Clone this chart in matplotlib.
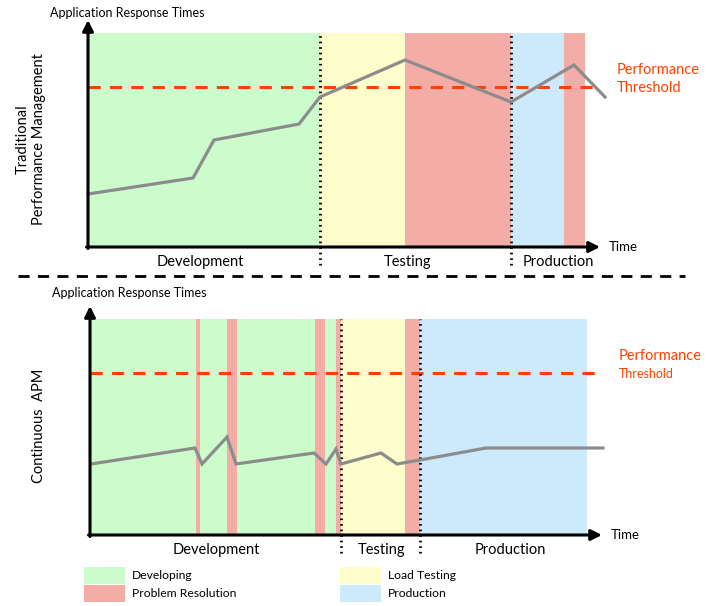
import matplotlib.pyplot as plt
from matplotlib.lines import Line2D
from matplotlib.patches import Patch

plt.rcParams['font.family'] = ['Lato', 'DejaVu Sans']

# colours of the phases
GREEN = '#ccfccc'
YELLOW = '#fefdcc'
RED = '#f4aca6'
BLUE = '#cceafc'
ORANGE = '#ff4000'
GREY = '#8c8c8c'

# ---- traditional APM (top) ----
top_spans_start = [0, 232, 317, 423, 476]
top_spans_end = [232, 317, 423, 476, 497]
top_spans_col = [GREEN, YELLOW, RED, BLUE, RED]
top_time = [0, 105, 126, 211, 232, 317, 423, 486, 517]
top_resp = [53, 69, 107, 123, 150, 187, 145, 182, 150]
top_threshold = 160
top_phase_bounds = [232, 423]
top_phase_names = ['Development', 'Testing', 'Production']
top_phase_pos = [112, 320, 470]

# ---- continuous APM (bottom) ----
bot_spans_start = [0, 106, 110, 137, 147, 225, 235, 246, 251, 315, 330]
bot_spans_end = [106, 110, 137, 147, 225, 235, 246, 251, 315, 330, 497]
bot_spans_col = [GREEN, RED, GREEN, RED, GREEN, RED, GREEN, RED, YELLOW, RED, BLUE]
bot_time = [1, 105, 112, 137, 146, 224, 236, 246, 251, 291, 307, 330, 396, 513]
bot_resp = [71, 87, 71, 98, 71, 82, 71, 86, 71, 82, 71, 75, 87, 87]
bot_threshold = 162
bot_phase_bounds = [251, 330]
bot_phase_names = ['Development', 'Testing', 'Production']
bot_phase_pos = [126, 292, 420]

legend_names = ['Developing', 'Problem Resolution', 'Load Testing', 'Production']
legend_cols = [GREEN, RED, YELLOW, BLUE]

W, H = 707, 606
fig = plt.figure(figsize=(W / 100, H / 100), dpi=100)


def panel(left, bottom_px, height_px, starts, ends, cols, t, r, thr, bounds,
          names, pos, ylabel, ylabel_x, thr_small, title_dy):
    ax = fig.add_axes([left / W, 1 - bottom_px / H, 532 / W, height_px / H])
    ax.set_xlim(0, 532)
    ax.set_ylim(0, height_px)
    ax.axis('off')
    for s, e, c in zip(starts, ends, cols):
        ax.axvspan(s, e, color=c, lw=0, zorder=0)
    ax.axhline(thr, xmin=0, xmax=512 / 532, color=ORANGE, lw=2.2,
               ls=(0, (4, 3)), zorder=2)
    for b in bounds:
        ax.axvline(b, ymin=-18 / height_px, ymax=1, color='black', lw=2,
                   ls=(0, (0.6, 1.4)), clip_on=False, zorder=3)
    ax.plot(t, r, color=GREY, lw=2.3, clip_on=False, zorder=4,
            solid_joinstyle='miter')
    arrow = dict(arrowstyle='-|>', lw=2.2, color='black', mutation_scale=16,
                 shrinkA=0, shrinkB=0)
    ax.annotate('', xy=(0, height_px + 13), xytext=(0, -1.5), arrowprops=arrow,
                annotation_clip=False, zorder=5)
    ax.annotate('', xy=(512, 0), xytext=(-1.5, 0), arrowprops=arrow,
                annotation_clip=False, zorder=5)
    for n, p in zip(names, pos):
        ax.text(p, -15, n, ha='center', va='center', fontsize=10.5)
    ax.text(521, 0, 'Time', ha='left', va='center', fontsize=9.5)
    ax.text(-38, height_px + title_dy, 'Application Response Times',
            ha='left', va='center', fontsize=9)
    ax.text(529, thr + 17, 'Performance', color=ORANGE, ha='left',
            va='center', fontsize=10.5)
    ax.text(529, thr - 1, 'Threshold', color=ORANGE, ha='left', va='center',
            fontsize=9 if thr_small else 10.5)
    ax.text(ylabel_x, height_px / 2 + 1, ylabel, rotation=90, ha='center',
            va='center', fontsize=10.5, linespacing=1.2)
    return ax


ax1 = panel(88, 247, 214, top_spans_start, top_spans_end, top_spans_col,
            top_time, top_resp, top_threshold, top_phase_bounds,
            top_phase_names, top_phase_pos,
            'Traditional\nPerformance Management', -57, False, 20)
ax2 = panel(90, 535, 216, bot_spans_start, bot_spans_end, bot_spans_col,
            bot_time, bot_resp, bot_threshold, bot_phase_bounds,
            bot_phase_names, bot_phase_pos, 'Continuous  APM', -51, True, 26)

# separator between the two panels
fig.add_artist(Line2D([18 / W, 685 / W], [1 - 276 / H, 1 - 276 / H],
                      color='black', lw=2, ls=(0, (4, 3))))

handles = [Patch(facecolor=c, edgecolor='none') for c in legend_cols]
fig.legend(handles, legend_names, loc='upper left',
           bbox_to_anchor=(84 / W, 1 - 567 / H), ncol=2, frameon=False,
           fontsize=8.7, handlelength=3.4, handleheight=1.75,
           handletextpad=0.55, labelspacing=0.12, columnspacing=8.6,
           borderpad=0, borderaxespad=0)

fig.savefig('out.png', dpi=100)
